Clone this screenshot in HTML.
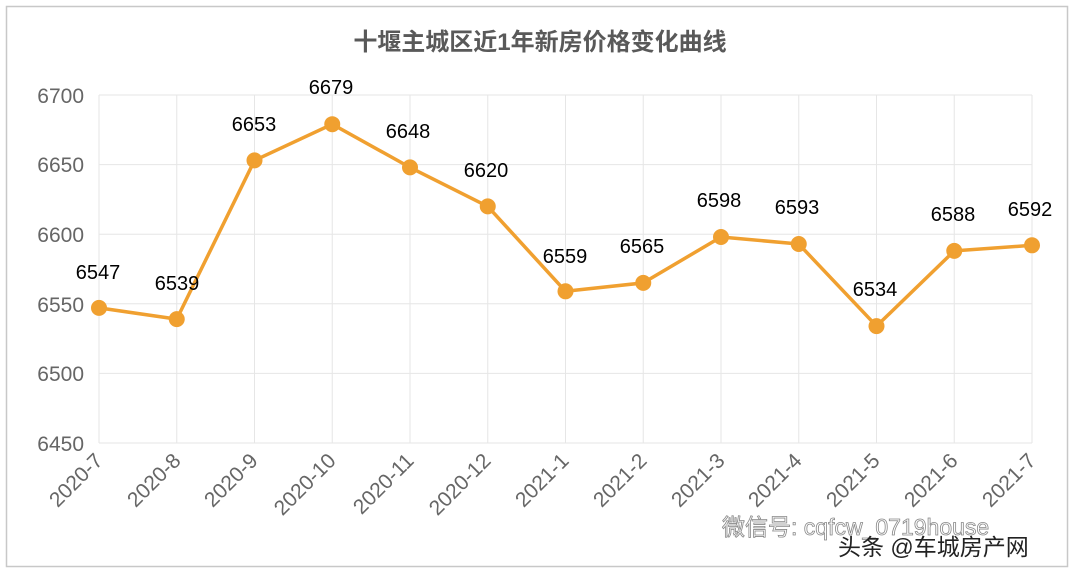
<!DOCTYPE html><html><head><meta charset="utf-8"><style>body{margin:0;background:#fff}svg{display:block}</style></head><body>
<svg width="1080" height="575" xmlns="http://www.w3.org/2000/svg" font-family="Liberation Sans, Noto Sans CJK SC, sans-serif">
<rect x="0" y="0" width="1080" height="575" fill="#fff"/>
<rect x="6.5" y="6.5" width="1061" height="560" fill="#fff" stroke="#c8c8c8" stroke-width="1.5"/>
<text x="540" y="50" text-anchor="middle" font-size="24" font-weight="bold" fill="#595959">十堰主城区近1年新房价格变化曲线</text>
<g stroke="#e6e6e6" stroke-width="1">
<line x1="99" y1="95" x2="1032" y2="95"/><line x1="99" y1="164.6" x2="1032" y2="164.6"/><line x1="99" y1="234.2" x2="1032" y2="234.2"/><line x1="99" y1="303.8" x2="1032" y2="303.8"/><line x1="99" y1="373.4" x2="1032" y2="373.4"/><line x1="99" y1="443" x2="1032" y2="443"/>
<line x1="99" y1="95" x2="99" y2="443"/><line x1="176.75" y1="95" x2="176.75" y2="443"/><line x1="254.5" y1="95" x2="254.5" y2="443"/><line x1="332.25" y1="95" x2="332.25" y2="443"/><line x1="410" y1="95" x2="410" y2="443"/><line x1="487.75" y1="95" x2="487.75" y2="443"/><line x1="565.5" y1="95" x2="565.5" y2="443"/><line x1="643.25" y1="95" x2="643.25" y2="443"/><line x1="721" y1="95" x2="721" y2="443"/><line x1="798.75" y1="95" x2="798.75" y2="443"/><line x1="876.5" y1="95" x2="876.5" y2="443"/><line x1="954.25" y1="95" x2="954.25" y2="443"/><line x1="1032" y1="95" x2="1032" y2="443"/>
</g>
<g font-size="21" fill="#666" text-anchor="end">
<text x="84" y="103">6700</text><text x="84" y="172">6650</text><text x="84" y="242">6600</text><text x="84" y="312">6550</text><text x="84" y="381">6500</text><text x="84" y="451">6450</text>
</g>
<g font-size="21" fill="#666" text-anchor="end">
<text transform="translate(104,462) rotate(-45)">2020-7</text>
<text transform="translate(182,462) rotate(-45)">2020-8</text>
<text transform="translate(259,462) rotate(-45)">2020-9</text>
<text transform="translate(337,462) rotate(-45)">2020-10</text>
<text transform="translate(415,462) rotate(-45)">2020-11</text>
<text transform="translate(492,462) rotate(-45)">2020-12</text>
<text transform="translate(570,462) rotate(-45)">2021-1</text>
<text transform="translate(648,462) rotate(-45)">2021-2</text>
<text transform="translate(726,462) rotate(-45)">2021-3</text>
<text transform="translate(803,462) rotate(-45)">2021-4</text>
<text transform="translate(881,462) rotate(-45)">2021-5</text>
<text transform="translate(959,462) rotate(-45)">2021-6</text>
<text transform="translate(1037,462) rotate(-45)">2021-7</text>
</g>
<polyline fill="none" stroke="#f0a030" stroke-width="3.5" stroke-linejoin="round" points="99,307.9 176.75,319.1 254.5,160.4 332.25,124.2 410,167.4 487.75,206.4 565.5,291.3 643.25,282.9 721,237 798.75,244 876.5,326.1 954.25,250.9 1032,245.3"/>
<g fill="#f0a030">
<circle cx="99" cy="307.9" r="8"/><circle cx="176.75" cy="319.1" r="8"/><circle cx="254.5" cy="160.4" r="8"/><circle cx="332.25" cy="124.2" r="8"/><circle cx="410" cy="167.4" r="8"/><circle cx="487.75" cy="206.4" r="8"/><circle cx="565.5" cy="291.3" r="8"/><circle cx="643.25" cy="282.9" r="8"/><circle cx="721" cy="237" r="8"/><circle cx="798.75" cy="244" r="8"/><circle cx="876.5" cy="326.1" r="8"/><circle cx="954.25" cy="250.9" r="8"/><circle cx="1032" cy="245.3" r="8"/>
</g>
<g font-size="20" fill="#000" text-anchor="middle">
<text x="98" y="279">6547</text><text x="177" y="290">6539</text><text x="254" y="131">6653</text><text x="331" y="94">6679</text><text x="408" y="138">6648</text><text x="486" y="177">6620</text><text x="565" y="263">6559</text><text x="642" y="253">6565</text><text x="719" y="207">6598</text><text x="797" y="214">6593</text><text x="875" y="296">6534</text><text x="953" y="221">6588</text><text x="1030" y="216">6592</text>
</g>
<text x="722" y="535" font-size="23" fill="#fff" stroke="#888" stroke-width="0.8">微信号: cqfcw_0719house</text>
<text x="838" y="555" font-size="23" fill="#222">头条 @车城房产网</text>
</svg>
</body></html>
